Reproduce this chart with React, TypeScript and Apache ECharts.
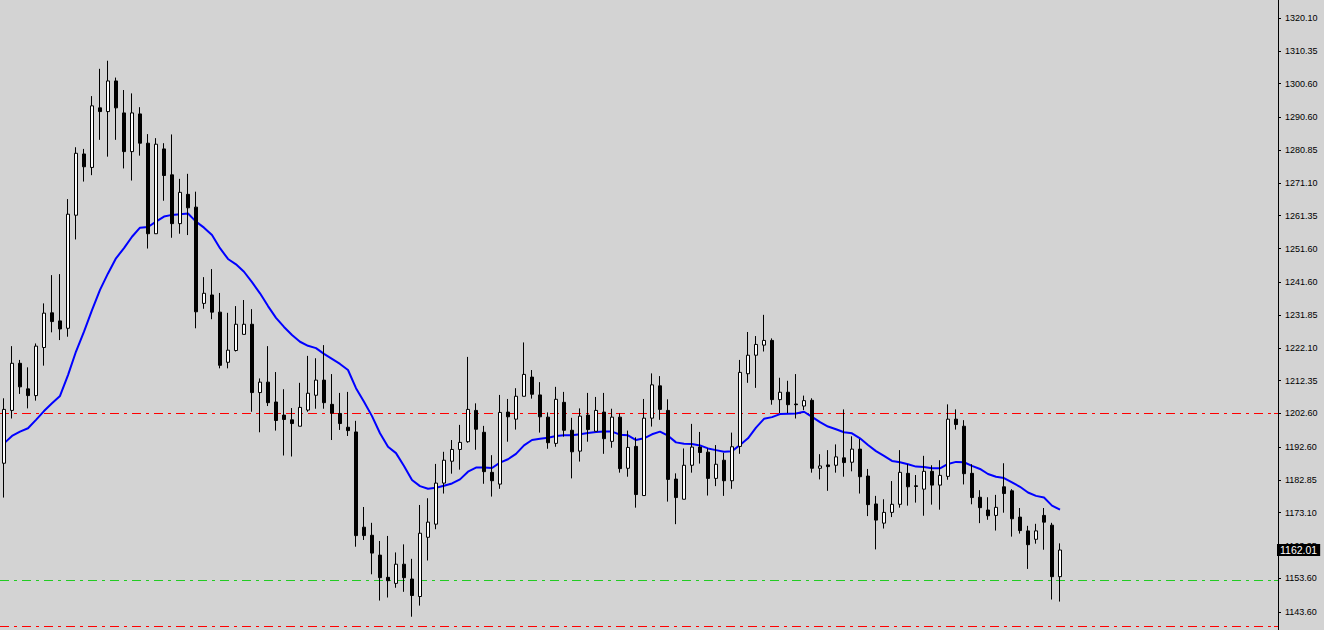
import React, { useEffect, useRef } from 'react';
import * as echarts from 'echarts';

const opens = [
  1187.8, 1203.5, 1217.5, 1209.9, 1207.9, 1222.2, 1232.5, 1230.1, 1227.9, 1261.5,
  1279.7, 1275.7, 1293.4, 1292.3, 1301.4, 1291.9, 1280.4, 1291.6, 1282.9, 1256.0,
  1281.2, 1273.5, 1259.0, 1267.7, 1263.9, 1235.3, 1237.8, 1232.7, 1217.8, 1221.3,
  1226.1, 1229.1, 1208.8, 1211.9, 1206.0, 1202.1, 1200.7, 1198.8, 1203.6, 1208.0,
  1212.5, 1205.3, 1202.6, 1198.5, 1197.1, 1168.8, 1166.4, 1160.5, 1153.9, 1152.1,
  1157.8, 1153.4, 1148.2, 1165.8, 1169.7, 1181.9, 1188.4, 1191.9, 1194.2, 1203.5,
  1197.0, 1185.1, 1181.6, 1203.0, 1200.9, 1207.7, 1213.4, 1208.1, 1201.5, 1193.7,
  1205.9, 1197.6, 1191.4, 1202.1, 1197.3, 1203.0, 1194.3, 1201.5, 1186.3, 1192.8,
  1178.2, 1201.2, 1210.8, 1203.5, 1183.1, 1177.1, 1187.2, 1192.6, 1191.1, 1183.3,
  1188.7, 1182.6, 1192.8, 1214.4, 1219.9, 1222.9, 1224.3, 1206.7, 1208.9, 1205.4,
  1204.8, 1206.5, 1186.3, 1187.3, 1187.2, 1189.4, 1188.1, 1192.0, 1184.0, 1175.7,
  1170.0, 1173.2, 1175.6, 1184.8, 1181.1, 1180.1, 1185.4, 1181.3, 1183.9, 1200.9,
  1198.8, 1184.8, 1177.7, 1173.9, 1172.3, 1180.8, 1179.6, 1171.8, 1167.7, 1165.2,
  1172.3, 1169.4, 1154.1,
];
const closes = [
  1203.8, 1217.5, 1210.5, 1207.9, 1222.6, 1232.4, 1229.9, 1227.7, 1261.8, 1279.9,
  1275.9, 1294.0, 1292.3, 1301.4, 1293.4, 1280.4, 1291.9, 1282.9, 1256.0, 1282.6,
  1273.3, 1259.0, 1268.3, 1263.7, 1232.8, 1238.3, 1232.7, 1216.9, 1221.4, 1229.1,
  1229.1, 1208.8, 1211.9, 1205.8, 1200.5, 1200.8, 1199.6, 1204.4, 1208.6, 1212.5,
  1205.8, 1202.7, 1199.6, 1197.5, 1166.3, 1166.3, 1161.1, 1153.8, 1152.9, 1157.8,
  1153.8, 1148.5, 1167.0, 1170.3, 1181.9, 1188.7, 1191.9, 1194.0, 1203.8, 1197.9,
  1185.3, 1182.6, 1202.9, 1201.6, 1207.7, 1214.2, 1208.3, 1201.6, 1193.9, 1206.8,
  1197.6, 1191.2, 1201.8, 1197.8, 1203.5, 1195.1, 1201.5, 1186.2, 1192.5, 1178.5,
  1201.2, 1211.1, 1203.8, 1183.0, 1177.6, 1187.2, 1192.6, 1191.0, 1183.3, 1187.5,
  1182.6, 1192.7, 1214.8, 1219.9, 1223.1, 1224.3, 1206.7, 1208.9, 1205.2, 1205.2,
  1206.4, 1186.3, 1187.0, 1186.8, 1189.7, 1188.0, 1192.0, 1183.8, 1175.5, 1170.9,
  1173.2, 1175.6, 1185.1, 1180.8, 1180.9, 1185.4, 1181.3, 1184.2, 1200.9, 1199.3,
  1184.7, 1177.6, 1174.6, 1172.2, 1174.7, 1178.8, 1171.3, 1167.8, 1163.6, 1167.7,
  1170.3, 1154.1, 1162.01,
];
const lows = [
  1177.6, 1201.1, 1208.4, 1204.1, 1206.4, 1216.8, 1226.7, 1224.4, 1225.4, 1254.3,
  1271.5, 1273.4, 1283.9, 1278.9, 1283.9, 1275.4, 1271.8, 1279.2, 1251.6, 1256.0,
  1265.8, 1254.8, 1256.0, 1255.6, 1227.9, 1233.7, 1230.6, 1216.0, 1216.0, 1221.0,
  1226.1, 1203.1, 1197.0, 1204.8, 1197.5, 1190.1, 1189.8, 1198.8, 1203.1, 1204.0,
  1204.0, 1194.7, 1197.7, 1195.9, 1163.0, 1165.0, 1154.8, 1147.0, 1147.9, 1150.8,
  1149.6, 1142.2, 1145.5, 1158.9, 1168.2, 1178.8, 1184.7, 1185.9, 1193.9, 1191.8,
  1181.7, 1177.9, 1180.2, 1194.2, 1197.8, 1207.7, 1207.0, 1196.9, 1192.1, 1192.7,
  1195.7, 1183.3, 1188.3, 1194.2, 1197.3, 1190.6, 1192.4, 1185.0, 1183.8, 1174.6,
  1178.2, 1198.7, 1200.7, 1176.4, 1169.7, 1177.1, 1185.0, 1187.7, 1178.2, 1181.0,
  1178.1, 1180.2, 1190.6, 1211.7, 1210.2, 1221.0, 1205.2, 1202.7, 1202.7, 1201.1,
  1203.6, 1185.0, 1183.0, 1179.6, 1185.0, 1183.8, 1185.4, 1178.8, 1172.1, 1162.2,
  1168.4, 1171.8, 1174.6, 1175.2, 1176.1, 1172.2, 1175.5, 1174.0, 1182.9, 1197.8,
  1181.5, 1175.6, 1170.0, 1171.0, 1167.8, 1173.1, 1166.0, 1166.9, 1156.4, 1163.9,
  1162.1, 1147.3, 1146.7,
];
const highs = [
  1207.1, 1222.6, 1218.5, 1216.3, 1223.4, 1235.3, 1243.7, 1244.0, 1266.3, 1281.7,
  1281.2, 1296.9, 1305.0, 1307.4, 1302.4, 1298.7, 1297.7, 1293.6, 1285.6, 1284.4,
  1282.9, 1285.5, 1272.3, 1273.8, 1268.5, 1243.1, 1245.5, 1238.4, 1232.5, 1234.5,
  1236.3, 1233.6, 1213.0, 1222.6, 1214.9, 1209.8, 1204.2, 1211.7, 1219.7, 1219.0,
  1222.9, 1214.3, 1208.7, 1209.0, 1200.4, 1174.8, 1170.1, 1164.7, 1166.2, 1161.3,
  1163.7, 1159.4, 1175.4, 1177.4, 1187.6, 1191.2, 1194.7, 1199.2, 1219.4, 1205.6,
  1198.9, 1190.2, 1208.1, 1206.9, 1210.1, 1223.7, 1215.5, 1211.9, 1202.9, 1210.5,
  1209.0, 1201.3, 1204.1, 1208.7, 1207.5, 1208.7, 1204.0, 1202.6, 1197.5, 1195.5,
  1206.9, 1214.5, 1213.7, 1206.8, 1184.8, 1192.2, 1199.5, 1197.1, 1192.2, 1193.2,
  1190.9, 1196.9, 1218.5, 1226.8, 1225.6, 1231.9, 1224.9, 1213.2, 1212.3, 1214.3,
  1207.9, 1207.1, 1190.5, 1191.7, 1193.4, 1203.8, 1195.8, 1195.0, 1186.1, 1178.1,
  1177.1, 1182.5, 1191.7, 1187.5, 1184.3, 1190.0, 1187.2, 1188.7, 1205.3, 1203.8,
  1200.6, 1187.5, 1179.8, 1177.7, 1178.4, 1187.8, 1180.1, 1174.5, 1169.2, 1169.8,
  1174.5, 1170.1, 1164.0,
];
const maValues = [
  1193.7, 1195.9, 1197.2, 1198.2, 1200.7, 1203.3, 1205.6, 1207.8, 1214.0, 1221.0,
  1226.9, 1233.3, 1239.3, 1244.2, 1248.7, 1251.7, 1255.1, 1257.8, 1258.0, 1259.6,
  1261.1, 1261.6, 1261.8, 1262.0, 1259.6, 1257.8, 1255.6, 1251.7, 1248.5, 1246.9,
  1244.7, 1241.6, 1238.3, 1234.5, 1231.0, 1228.3, 1225.9, 1223.9, 1222.7, 1222.0,
  1220.3, 1218.8, 1217.3, 1215.5, 1210.1, 1206.1, 1201.8, 1196.7, 1192.7, 1190.8,
  1187.0, 1182.8, 1181.0, 1180.2, 1180.5, 1181.1, 1181.8, 1183.0, 1185.3, 1186.5,
  1186.5, 1186.4, 1188.0, 1189.0, 1190.6, 1193.1, 1194.7, 1195.1, 1195.4, 1195.9,
  1196.1, 1196.1, 1196.4, 1196.8, 1197.1, 1197.2, 1197.2, 1196.3, 1196.1, 1194.7,
  1195.2, 1196.4, 1197.2, 1196.0, 1194.0, 1193.6, 1193.5, 1193.1, 1192.2, 1191.7,
  1191.2, 1191.4, 1193.2, 1195.2, 1198.4, 1201.0, 1201.5, 1202.4, 1202.5, 1202.6,
  1203.1, 1201.6, 1200.0, 1198.7, 1197.9, 1197.0, 1196.7, 1195.2, 1193.2, 1191.4,
  1190.0, 1188.5, 1188.1, 1187.5, 1186.8, 1186.7, 1186.3, 1186.3, 1187.6, 1188.2,
  1188.1, 1187.0, 1186.1, 1184.6, 1183.8, 1183.4, 1182.1, 1180.8, 1179.1, 1178.1,
  1177.6, 1175.2, 1174.0,
];
const tickValues = [
  1320.10, 1310.35, 1300.60, 1290.60, 1280.85, 1271.10, 1261.35, 1251.60, 1241.60,
  1231.85, 1222.10, 1212.35, 1202.60, 1192.60, 1182.85, 1173.10, 1163.35, 1153.60, 1143.60,
];
const levelPrices = [1202.6, 1153.2, 1139.5];
const levelColors = ['#ff0000', '#22cc22', '#ff0000'];
const lastPrice = 1162.01;

export default function App() {
  const ref = useRef<HTMLDivElement>(null);
  useEffect(() => {
    document.body.style.margin = '0';
    const chart = echarts.init(ref.current!, null, { renderer: 'svg' });
    const candleData = opens.map((o, i) => [i, o, closes[i], lows[i], highs[i]]);
    const maData = maValues.map((v, i) => [i, v]);
    chart.setOption({
      animation: false,
      backgroundColor: '#d3d3d3',
      grid: { left: 0, right: 46, top: 0, bottom: 0 },
      xAxis: { type: 'value', min: -0.5, max: 159.25, show: false },
      yAxis: {
        type: 'value',
        position: 'right',
        min: 1138.25,
        max: 1325.45,
        splitLine: { show: false },
        axisLine: { show: true, onZero: false, lineStyle: { color: '#000', width: 1 } },
        axisTick: { show: true, length: 3, customValues: tickValues, lineStyle: { color: '#000' } },
        axisLabel: {
          customValues: tickValues,
          formatter: (v: number) => v.toFixed(2),
          color: '#000',
          fontSize: 9,
          fontFamily: 'Liberation Sans',
          margin: 7,
        },
      },
      series: [
        {
          type: 'line',
          data: maData,
          symbol: 'none',
          z: 1,
          lineStyle: { color: '#0000ff', width: 2 },
        },
        {
          type: 'candlestick',
          data: candleData,
          encode: { x: 0, y: [1, 2, 3, 4] },
          barWidth: 3,
          z: 3,
          itemStyle: {
            color: '#ffffff',
            color0: '#000000',
            borderColor: '#000000',
            borderColor0: '#000000',
            borderWidth: 1,
          },
          markLine: {
            silent: true,
            symbol: 'none',
            lineStyle: { color: 'rgba(0,0,0,0)', width: 1 },
            label: {
              show: true,
              position: 'end',
              distance: -1,
              formatter: lastPrice.toFixed(2),
              color: '#ffffff',
              backgroundColor: '#000000',
              fontSize: 10.5,
              fontFamily: 'Liberation Sans',
              padding: [1, 3, 0, 3],
            },
            data: [{ yAxis: lastPrice }],
          },
        },
      ],
    });
    const gx = 1278;
    const elements: any[] = [];
    levelPrices.forEach((p, i) => {
      const yRaw = chart.convertToPixel({ yAxisIndex: 0 }, p) as number;
      const y = Math.min(Math.round(yRaw), 629) + 0.5;
      elements.push({
        type: 'line',
        silent: true,
        z: 0,
        shape: { x1: 0, y1: y, x2: gx, y2: y },
        style: { stroke: levelColors[i], lineWidth: 1, lineDash: [9, 5, 3, 5] },
      });
      elements.push({
        type: 'line',
        silent: true,
        z: 10,
        shape: { x1: gx - 4, y1: y, x2: gx, y2: y },
        style: { stroke: levelColors[i], lineWidth: 1 },
      });
    });
    chart.setOption({ graphic: elements });
    return () => chart.dispose();
  }, []);
  return <div ref={ref} style={{ position: 'absolute', left: 0, top: 0, width: 1324, height: 630 }} />;
}
